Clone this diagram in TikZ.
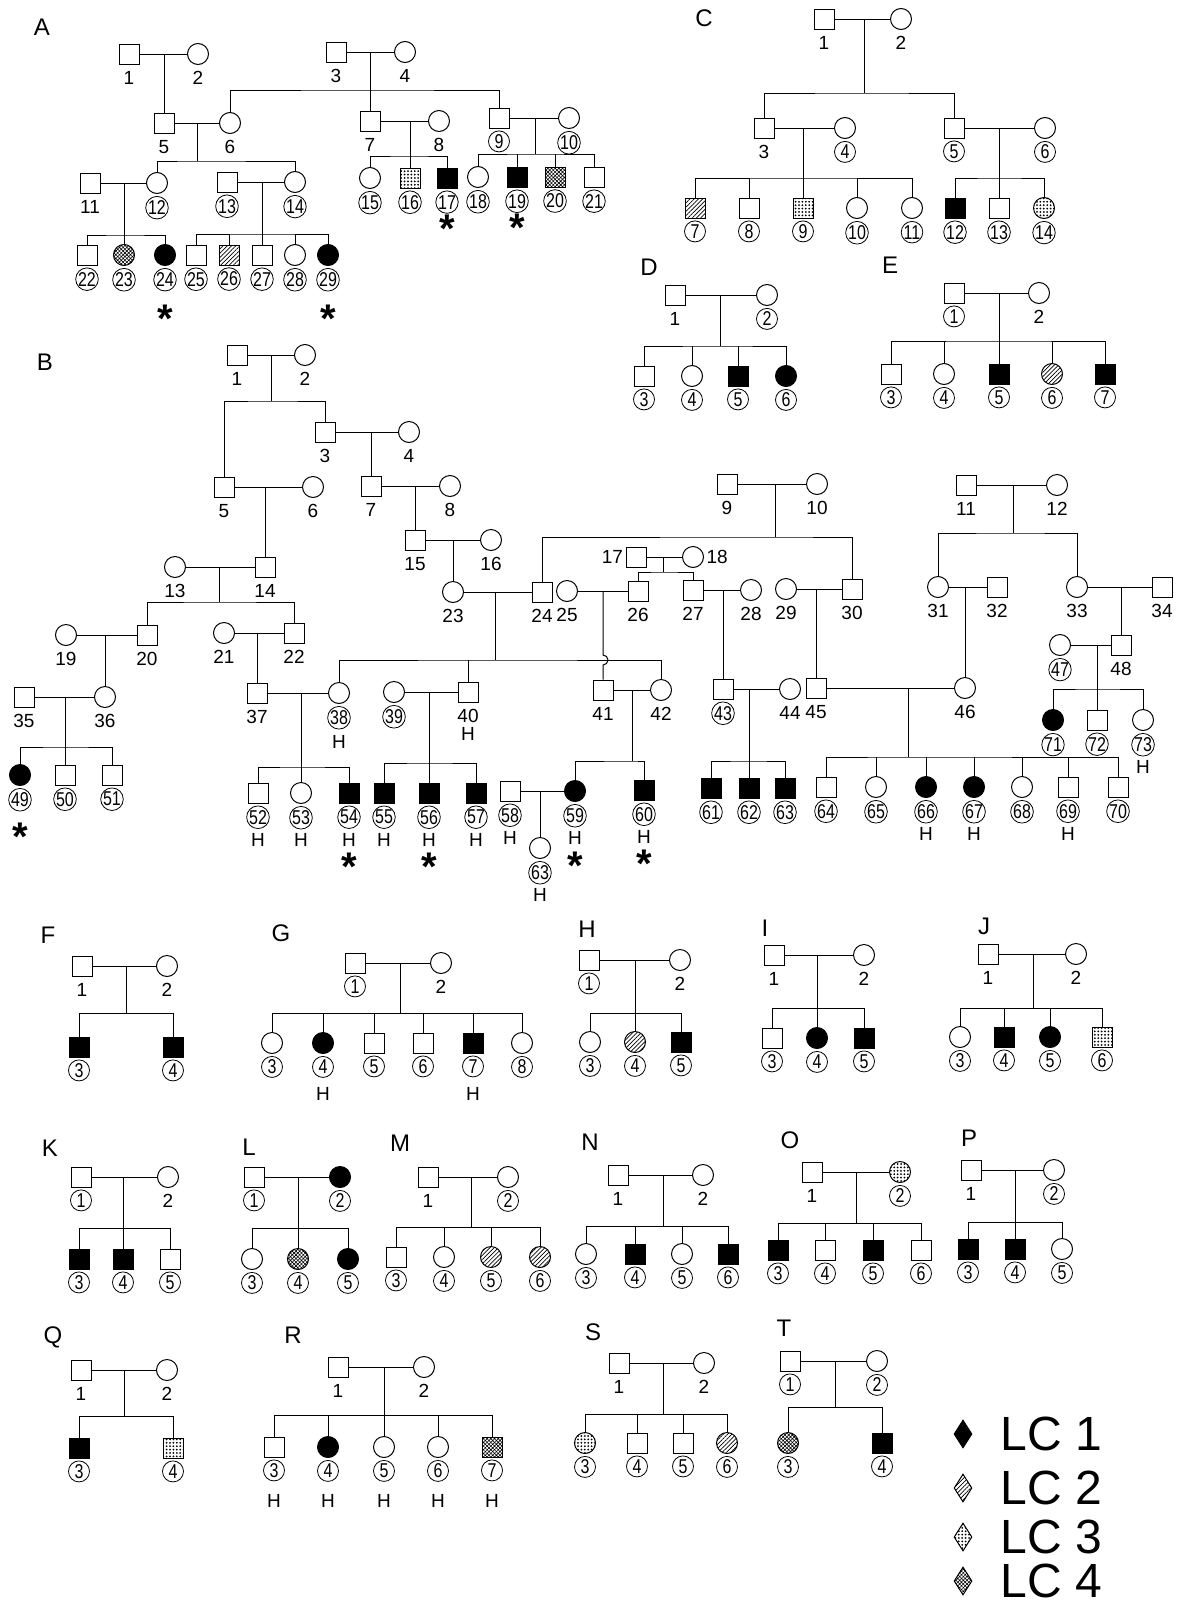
\documentclass[tikz,border=0pt]{standalone}
\usepackage{fontspec}
\setmainfont{Liberation Sans}
\usetikzlibrary{shapes.geometric,patterns.meta}
\newcommand{\numfont}{\fontsize{9.5}{10}\selectfont}
\newcommand{\cnumfont}{\fontsize{10}{10}\selectfont}
\newcommand{\pedfont}{\fontsize{12}{13}\selectfont}
\newcommand{\astfont}{\fontsize{20}{20}\selectfont\bfseries}
\newcommand{\lcfont}{\fontsize{24}{24}\selectfont}

\begin{document}
\begin{tikzpicture}[
  x=0.5pt, y=-0.5pt, line width=0.5pt,
  sq/.style={draw, rectangle, minimum size=10pt, inner sep=0pt},
  ci/.style={draw, circle, minimum size=10.5pt, inner sep=0pt},
  lc1/.style={fill=black},
  lc2/.style={pattern={Lines[angle=45,distance=1.5pt,line width=0.35pt]}},
  lc3/.style={pattern={Dots[radius=0.5pt,distance=1.7pt]}},
  lc4/.style={pattern={Hatch[angle=45,distance=1.3pt,line width=0.3pt]}},
  num/.style={font=\numfont, inner sep=1pt},
  cnum/.style={draw, circle, font=\cnumfont, inner sep=0pt, minimum size=10.5pt, line width=0.4pt},
  astk/.style={font=\astfont, inner sep=0pt},
  ped/.style={font=\pedfont, inner sep=0pt},
  nb/.style={label={[num, label distance=2pt]below:#1}},
  cb/.style={label={[cnum, label distance=1pt]below:{\scalebox{0.8}[1]{#1}}}},
  hb/.style={label={[num, label distance=#1]below:H}}, hb/.default=13.5pt,
  sb/.style={label={[astk, label distance=#1]below:*}},
  lcmark/.style={draw, diamond, minimum width=9pt, minimum height=14pt, inner sep=0pt},
  lctext/.style={anchor=west, font=\lcfont, inner sep=0pt}
]
\useasboundingbox (0,0) rectangle (1177,1606);

% pedigree A
\node[ped] (tA) at (42,27) {A};
\node[sq, nb=1] (A1) at (129,54) {};
\node[ci, nb=2] (A2) at (198,54) {};
\node[sq, nb=3] (A3) at (336,52) {};
\node[ci, nb=4] (A4) at (405,52) {};
\node[sq, nb=5] (A5) at (164,123) {};
\node[ci, nb=6] (A6) at (230,123) {};
\node[sq, nb=7] (A7) at (370,121) {};
\node[ci, nb=8] (A8) at (439,121) {};
\node[sq, cb=9] (A9) at (499,118) {};
\node[ci, cb=10] (A10) at (569,118) {};
\node[sq, nb=11] (A11) at (90,183) {};
\node[ci, cb=12] (A12) at (157,183) {};
\node[sq, cb=13] (A13) at (227,182) {};
\node[ci, cb=14] (A14) at (295,182) {};
\node[ci, cb=15] (A15) at (370,178) {};
\node[sq, lc3, cb=16] (A16) at (410,178) {};
\node[sq, lc1, cb=17, sb=13pt] (A17) at (447,178) {};
\node[ci, cb=18] (A18) at (478,177) {};
\node[sq, lc1, cb=19, sb=13pt] (A19) at (517,177) {};
\node[sq, lc4, cb=20] (A20) at (555,177) {};
\node[sq, cb=21] (A21) at (594,177) {};
\node[sq, cb=22] (A22) at (87,255) {};
\node[ci, lc4, cb=23] (A23) at (124,255) {};
\node[ci, lc1, cb=24, sb=19pt] (A24) at (165,255) {};
\node[sq, cb=25] (A25) at (196,255) {};
\node[sq, lc2, cb=26] (A26) at (229,255) {};
\node[sq, cb=27] (A27) at (262,255) {};
\node[ci, cb=28] (A28) at (295,255) {};
\node[ci, lc1, cb=29, sb=19pt] (A29) at (328,255) {};

\coordinate (mA12) at (164,54);
\coordinate (mA34) at (370,52);
\coordinate (sA34) at (370,90);
\coordinate (mA56) at (197,123);
\coordinate (sA56) at (197,161);
\coordinate (mA78) at (410,121);
\coordinate (sA78) at (410,156);
\coordinate (mA910) at (535,118);
\coordinate (sA910) at (535,154);
\coordinate (mA1112) at (124,183);
\coordinate (sA1112) at (124,235);
\coordinate (mA1314) at (262,182);
\coordinate (sA1314) at (262,234);

\draw (A1) -- (A2);
\draw (mA12) -- (A5);
\draw (A3) -- (A4);
\draw (mA34) -- (A7);
\draw (A6) |- (sA34) -| (A9);
\draw (A5) -- (A6);
\draw (mA56) -- (sA56);
\draw (A12) |- (sA56) -| (A14);
\draw (A7) -- (A8);
\draw (mA78) -- (A16);
\draw (A15) |- (sA78) -| (A17);
\draw (A9) -- (A10);
\draw (mA910) -- (sA910);
\draw (A18) |- (sA910) -| (A21);
\foreach \c in {A19,A20} \draw (\c) -- (\c |- sA910);
\draw (A11) -- (A12);
\draw (mA1112) -- (A23);
\draw (A22) |- (sA1112) -| (A24);
\draw (A13) -- (A14);
\draw (mA1314) -- (A27);
\draw (A25) |- (sA1314) -| (A29);
\foreach \c in {A26,A28} \draw (\c) -- (\c |- sA1314);

% pedigree C
\node[ped] (tC) at (704,18) {C};
\node[sq, nb=1] (C1) at (824,19) {};
\node[ci, nb=2] (C2) at (901,19) {};
\node[sq, nb=3] (C3) at (764,128) {};
\node[ci, cb=4] (C4) at (845,128) {};
\node[sq, cb=5] (C5) at (954,128) {};
\node[ci, cb=6] (C6) at (1045,128) {};
\node[sq, lc2, cb=7] (C7) at (695,208) {};
\node[sq, cb=8] (C8) at (749,208) {};
\node[sq, lc3, cb=9] (C9) at (803,208) {};
\node[ci, cb=10] (C10) at (857,208) {};
\node[ci, cb=11] (C11) at (912,208) {};
\node[sq, lc1, cb=12] (C12) at (955,208) {};
\node[sq, cb=13] (C13) at (999,208) {};
\node[ci, lc3, cb=14] (C14) at (1044,208) {};

\coordinate (mC12) at (864,19);
\coordinate (sC12) at (864,93);
\coordinate (mC34) at (803,128);
\coordinate (sC34) at (803,178);
\coordinate (mC56) at (999,128);
\coordinate (sC56) at (999,178);

\draw (C1) -- (C2);
\draw (mC12) -- (sC12);
\draw (C3) |- (sC12) -| (C5);
\draw (C3) -- (C4);
\draw (mC34) -- (C9);
\draw (C7) |- (sC34) -| (C11);
\foreach \c in {C8,C10} \draw (\c) -- (\c |- sC34);
\draw (C5) -- (C6);
\draw (mC56) -- (C13);
\draw (C12) |- (sC56) -| (C14);

% pedigree D
\node[ped] (tD) at (649,267) {D};
\node[sq, nb=1] (D1) at (675,295) {};
\node[ci, cb=2] (D2) at (767,295) {};
\node[sq, cb=3] (D3) at (644,376) {};
\node[ci, cb=4] (D4) at (692,376) {};
\node[sq, lc1, cb=5] (D5) at (738,376) {};
\node[ci, lc1, cb=6] (D6) at (786,376) {};
\coordinate (mD) at (720,295);
\coordinate (sD) at (720,346);
\draw (D1) -- (D2);
\draw (mD) -- (sD);
\draw (D3) |- (sD) -| (D6);
\foreach \c in {D4,D5} \draw (\c) -- (\c |- sD);

% pedigree E
\node[ped] (tE) at (890,265) {E};
\node[sq, cb=1] (E1) at (954,293) {};
\node[ci, nb=2] (E2) at (1039,293) {};
\node[sq, cb=3] (E3) at (891,374) {};
\node[ci, cb=4] (E4) at (944,374) {};
\node[sq, lc1, cb=5] (E5) at (999,374) {};
\node[ci, lc2, cb=6] (E6) at (1052,374) {};
\node[sq, lc1, cb=7] (E7) at (1105,374) {};
\coordinate (mE) at (999,293);
\coordinate (sE) at (999,341);
\draw (E1) -- (E2);
\draw (mE) -- (E5);
\draw (E3) |- (sE) -| (E7);
\foreach \c in {E4,E6} \draw (\c) -- (\c |- sE);

% pedigree B
\node[ped] (tB) at (45,362) {B};
\node[sq, nb=1] (B1) at (237,355) {};
\node[ci, nb=2] (B2) at (305,355) {};
\node[sq, nb=3] (B3) at (325,432) {};
\node[ci, nb=4] (B4) at (409,432) {};
\node[sq, nb=5] (B5) at (224,487) {};
\node[ci, nb=6] (B6) at (313,487) {};
\node[sq, nb=7] (B7) at (371,486) {};
\node[ci, nb=8] (B8) at (450,486) {};
\node[sq, nb=9] (B9) at (727,484) {};
\node[ci, nb=10] (B10) at (817,484) {};
\node[sq, nb=11] (B11) at (966,485) {};
\node[ci, nb=12] (B12) at (1057,485) {};
\node[ci, nb=13] (B13) at (175,567) {};
\node[sq, nb=14] (B14) at (265,567) {};
\node[sq, nb=15] (B15) at (415,540) {};
\node[ci, nb=16] (B16) at (491,540) {};
\node[sq, label={[num]left:17}] (B17) at (636,557) {};
\node[ci, label={[num]right:18}] (B18) at (693,557) {};
\node[ci, nb=19] (B19) at (66,635) {};
\node[sq, nb=20] (B20) at (147,635) {};
\node[ci, nb=21] (B21) at (224,633) {};
\node[sq, nb=22] (B22) at (294,633) {};
\node[ci, nb=23] (B23) at (453,592) {};
\node[sq, nb=24] (B24) at (542,592) {};
\node[ci, nb=25] (B25) at (567,591) {};
\node[sq, nb=26] (B26) at (638,591) {};
\node[sq, nb=27] (B27) at (693,590) {};
\node[ci, nb=28] (B28) at (751,590) {};
\node[ci, nb=29] (B29) at (786,589) {};
\node[sq, nb=30] (B30) at (852,589) {};
\node[ci, nb=31] (B31) at (938,587) {};
\node[sq, nb=32] (B32) at (997,587) {};
\node[ci, nb=33] (B33) at (1077,587) {};
\node[sq, nb=34] (B34) at (1162,587) {};
\node[sq, nb=35] (B35) at (24,697) {};
\node[ci, nb=36] (B36) at (105,697) {};
\node[sq, nb=37] (B37) at (257,693) {};
\node[ci, cb=38, hb=14.5pt] (B38) at (339,693) {};
\node[ci, cb=39] (B39) at (394,692) {};
\node[sq, nb=40, hb=11pt] (B40) at (468,692) {};
\node[sq, nb=41] (B41) at (603,690) {};
\node[ci, nb=42] (B42) at (661,690) {};
\node[sq, cb=43] (B43) at (723,689) {};
\node[ci, nb=44] (B44) at (790,689) {};
\node[sq, nb=45] (B45) at (816,688) {};
\node[ci, nb=46] (B46) at (965,688) {};
\node[ci, cb=47] (B47) at (1060,645) {};
\node[sq, nb=48] (B48) at (1121,645) {};
\node[ci, lc1, cb=49, sb=18pt] (B49) at (20,775) {};
\node[sq, cb=50] (B50) at (65,775) {};
\node[sq, cb=51] (B51) at (112,775) {};
\node[sq, cb=52, hb] (B52) at (258,793) {};
\node[ci, cb=53, hb] (B53) at (301,793) {};
\node[sq, lc1, cb=54, hb, sb=24.5pt] (B54) at (349,793) {};
\node[sq, lc1, cb=55, hb] (B55) at (384,793) {};
\node[sq, lc1, cb=56, hb, sb=24.5pt] (B56) at (429,793) {};
\node[sq, lc1, cb=57, hb] (B57) at (476,793) {};
\node[sq, cb=58, hb] (B58) at (510,791) {};
\node[ci, lc1, cb=59, hb, sb=24.5pt] (B59) at (575,791) {};
\node[sq, lc1, cb=60, hb, sb=24.5pt] (B60) at (644,790) {};
\node[sq, lc1, cb=61] (B61) at (711,788) {};
\node[sq, lc1, cb=62] (B62) at (749,788) {};
\node[sq, lc1, cb=63] (B63) at (785,788) {};
\node[sq, cb=64] (B64) at (826,787) {};
\node[ci, cb=65] (B65) at (876,787) {};
\node[ci, lc1, cb=66, hb] (B66) at (926,787) {};
\node[ci, lc1, cb=67, hb] (B67) at (974,787) {};
\node[ci, cb=68] (B68) at (1022,787) {};
\node[sq, cb=69, hb] (B69) at (1068,787) {};
\node[sq, cb=70] (B70) at (1118,787) {};
\node[ci, lc1, cb=71] (B71) at (1053,720) {};
\node[sq, cb=72] (B72) at (1097,720) {};
\node[ci, cb=73, hb] (B73) at (1143,720) {};
\node[ci, cb=63, hb] (B63b) at (540,848) {};

\coordinate (mB12) at (271,355);
\coordinate (sB12) at (271,401);
\coordinate (mB34) at (371,432);
\coordinate (mB56) at (265,487);
\coordinate (mB78) at (415,486);
\coordinate (mB910) at (775,484);
\coordinate (sB910) at (775,537);
\coordinate (mB1112) at (1013,485);
\coordinate (sB1112) at (1013,533);
\coordinate (mB1314) at (219,567);
\coordinate (sB1314) at (219,602);
\coordinate (mB1516) at (453,540);
\coordinate (mB1718) at (663,557);
\coordinate (sB1718) at (663,572);
\coordinate (mB1920) at (105,635);
\coordinate (mB2122) at (257,633);
\coordinate (mB2324) at (495,592);
\coordinate (sB2324) at (495,660);
\coordinate (mB2526) at (603,591);
\coordinate (mB2728) at (723,590);
\coordinate (mB2930) at (816,589);
\coordinate (mB3132) at (965,587);
\coordinate (mB3334) at (1121,587);
\coordinate (mB3536) at (65,697);
\coordinate (sB3536) at (65,747);
\coordinate (mB3738) at (301,693);
\coordinate (sB3738) at (301,767);
\coordinate (mB3940) at (429,692);
\coordinate (sB3940) at (429,763);
\coordinate (mB4142) at (632,690);
\coordinate (sB4142) at (632,761);
\coordinate (mB4344) at (749,689);
\coordinate (sB4344) at (749,761);
\coordinate (mB4546) at (908,688);
\coordinate (sB4546) at (908,757);
\coordinate (mB4748) at (1097,645);
\coordinate (sB4748) at (1097,689);
\coordinate (mB5859) at (540,791);

\draw (B1) -- (B2);
\draw (mB12) -- (sB12);
\draw (B5) |- (sB12) -| (B3);
\draw (B3) -- (B4);
\draw (mB34) -- (B7);
\draw (B5) -- (B6);
\draw (mB56) -- (B14);
\draw (B7) -- (B8);
\draw (mB78) -- (B15);
\draw (B9) -- (B10);
\draw (mB910) -- (sB910);
\draw (B24) |- (sB910) -| (B30);
\draw (B11) -- (B12);
\draw (mB1112) -- (sB1112);
\draw (B31) |- (sB1112) -| (B33);
\draw (B13) -- (B14);
\draw (mB1314) -- (sB1314);
\draw (B20) |- (sB1314) -| (B22);
\draw (B15) -- (B16);
\draw (mB1516) -- (B23);
\draw (B17) -- (B18);
\draw (mB1718) -- (sB1718);
\draw (B26) |- (sB1718) -| (B27);
\draw (B19) -- (B20);
\draw (mB1920) -- (B36);
\draw (B21) -- (B22);
\draw (mB2122) -- (B37);
\draw (B23) -- (B24);
\draw (mB2324) -- (sB2324);
\draw (B38) |- (sB2324) -| (B42);
\draw (B40) -- (B40 |- sB2324);
\draw (B25) -- (B26);
\draw (mB2526) -- ++(0,64) arc[start angle=-90, end angle=90, radius=5] -- (B41);
\draw (B27) -- (B28);
\draw (mB2728) -- (B43);
\draw (B29) -- (B30);
\draw (mB2930) -- (B45);
\draw (B31) -- (B32);
\draw (mB3132) -- (B46);
\draw (B33) -- (B34);
\draw (mB3334) -- (B48);
\draw (B35) -- (B36);
\draw (mB3536) -- (B50);
\draw (B49) |- (sB3536) -| (B51);
\draw (B37) -- (B38);
\draw (mB3738) -- (B53);
\draw (B52) |- (sB3738) -| (B54);
\draw (B39) -- (B40);
\draw (mB3940) -- (B56);
\draw (B55) |- (sB3940) -| (B57);
\draw (B41) -- (B42);
\draw (mB4142) -- (sB4142);
\draw (B59) |- (sB4142) -| (B60);
\draw (B43) -- (B44);
\draw (mB4344) -- (B62);
\draw (B61) |- (sB4344) -| (B63);
\draw (B45) -- (B46);
\draw (mB4546) -- (sB4546);
\draw (B64) |- (sB4546) -| (B70);
\foreach \c in {B65,B66,B67,B68,B69} \draw (\c) -- (\c |- sB4546);
\draw (B47) -- (B48);
\draw (mB4748) -- (B72);
\draw (B71) |- (sB4748) -| (B73);
\draw (B58) -- (B59);
\draw (mB5859) -- (B63b);

% pedigree F
\node[ped] (tF) at (48,935) {F};
\node[sq, nb=1] (F1) at (82,966) {};
\node[ci, nb=2] (F2) at (167,966) {};
\node[sq, lc1, cb=3] (F3) at (79,1047) {};
\node[sq, lc1, cb=4] (F4) at (173,1047) {};
\coordinate (mF) at (126,966);
\coordinate (sF) at (126,1013);
\draw (F1) -- (F2);
\draw (mF) -- (sF);
\draw (F3) |- (sF) -| (F4);

% pedigree G
\node[ped] (tG) at (281,933) {G};
\node[sq, cb=1] (G1) at (355,963) {};
\node[ci, nb=2] (G2) at (441,963) {};
\node[ci, cb=3] (G3) at (272,1043) {};
\node[ci, lc1, cb=4, hb=15.5pt] (G4) at (323,1043) {};
\node[sq, cb=5] (G5) at (374,1043) {};
\node[sq, cb=6] (G6) at (423,1043) {};
\node[sq, lc1, cb=7, hb=15.5pt] (G7) at (473,1043) {};
\node[ci, cb=8] (G8) at (522,1043) {};
\coordinate (mG) at (400,963);
\coordinate (sG) at (400,1013);
\draw (G1) -- (G2);
\draw (mG) -- (sG);
\draw (G3) |- (sG) -| (G8);
\foreach \c in {G4,G5,G6,G7} \draw (\c) -- (\c |- sG);

% pedigree H
\node[ped] (tH) at (587,929) {H};
\node[sq, cb=1] (H1) at (589,960) {};
\node[ci, nb=2] (H2) at (680,960) {};
\node[ci, cb=3] (H3) at (590,1042) {};
\node[ci, lc2, cb=4] (H4) at (635,1042) {};
\node[sq, lc1, cb=5] (H5) at (681,1042) {};
\coordinate (mH) at (635,960);
\coordinate (sH) at (635,1013);
\draw (H1) -- (H2);
\draw (mH) -- (H4);
\draw (H3) |- (sH) -| (H5);

% pedigree I
\node[ped] (tI) at (765,928) {I};
\node[sq, nb=1] (I1) at (774,955) {};
\node[ci, nb=2] (I2) at (864,955) {};
\node[sq, cb=3] (I3) at (772,1038) {};
\node[ci, lc1, cb=4] (I4) at (817,1038) {};
\node[sq, lc1, cb=5] (I5) at (864,1038) {};
\coordinate (mI) at (817,955);
\coordinate (sI) at (817,1008);
\draw (I1) -- (I2);
\draw (mI) -- (I4);
\draw (I3) |- (sI) -| (I5);

% pedigree J
\node[ped] (tJ) at (984,926) {J};
\node[sq, nb=1] (J1) at (988,954) {};
\node[ci, nb=2] (J2) at (1076,954) {};
\node[ci, cb=3] (J3) at (960,1037) {};
\node[sq, lc1, cb=4] (J4) at (1004,1037) {};
\node[ci, lc1, cb=5] (J5) at (1050,1037) {};
\node[sq, lc3, cb=6] (J6) at (1102,1037) {};
\coordinate (mJ) at (1033,954);
\coordinate (sJ) at (1033,1008);
\draw (J1) -- (J2);
\draw (mJ) -- (sJ);
\draw (J3) |- (sJ) -| (J6);
\foreach \c in {J4,J5} \draw (\c) -- (\c |- sJ);

% pedigree K
\node[ped] (tK) at (50,1148) {K};
\node[sq, cb=1] (K1) at (81,1177) {};
\node[ci, nb=2] (K2) at (168,1177) {};
\node[sq, lc1, cb=3] (K3) at (79,1259) {};
\node[sq, lc1, cb=4] (K4) at (123,1259) {};
\node[sq, cb=5] (K5) at (170,1259) {};
\coordinate (mK) at (123,1177);
\coordinate (sK) at (123,1228);
\draw (K1) -- (K2);
\draw (mK) -- (K4);
\draw (K3) |- (sK) -| (K5);

% pedigree L
\node[ped] (tL) at (249,1147) {L};
\node[sq, cb=1] (L1) at (254,1177) {};
\node[ci, lc1, cb=2] (L2) at (340,1177) {};
\node[ci, cb=3] (L3) at (252,1259) {};
\node[ci, lc4, cb=4] (L4) at (298,1259) {};
\node[ci, lc1, cb=5] (L5) at (348,1259) {};
\coordinate (mL) at (298,1177);
\coordinate (sL) at (298,1228);
\draw (L1) -- (L2);
\draw (mL) -- (L4);
\draw (L3) |- (sL) -| (L5);

% pedigree M
\node[ped] (tM) at (400,1143) {M};
\node[sq, nb=1] (M1) at (428,1177) {};
\node[ci, cb=2] (M2) at (508,1177) {};
\node[sq, cb=3] (M3) at (396,1257) {};
\node[ci, cb=4] (M4) at (444,1257) {};
\node[ci, lc2, cb=5] (M5) at (491,1257) {};
\node[ci, lc2, cb=6] (M6) at (540,1257) {};
\coordinate (mM) at (471,1177);
\coordinate (sM) at (471,1227);
\draw (M1) -- (M2);
\draw (mM) -- (sM);
\draw (M3) |- (sM) -| (M6);
\foreach \c in {M4,M5} \draw (\c) -- (\c |- sM);

% pedigree N
\node[ped] (tN) at (590,1142) {N};
\node[sq, nb=1] (N1) at (618,1175) {};
\node[ci, nb=2] (N2) at (703,1175) {};
\node[ci, cb=3] (N3) at (586,1254) {};
\node[sq, lc1, cb=4] (N4) at (635,1254) {};
\node[ci, cb=5] (N5) at (682,1254) {};
\node[sq, lc1, cb=6] (N6) at (728,1254) {};
\coordinate (mN) at (663,1175);
\coordinate (sN) at (663,1226);
\draw (N1) -- (N2);
\draw (mN) -- (sN);
\draw (N3) |- (sN) -| (N6);
\foreach \c in {N4,N5} \draw (\c) -- (\c |- sN);

% pedigree O
\node[ped] (tO) at (790,1140) {O};
\node[sq, nb=1] (O1) at (812,1172) {};
\node[ci, lc3, cb=2] (O2) at (900,1172) {};
\node[sq, lc1, cb=3] (O3) at (778,1250) {};
\node[sq, cb=4] (O4) at (825,1250) {};
\node[sq, lc1, cb=5] (O5) at (873,1250) {};
\node[sq, cb=6] (O6) at (921,1250) {};
\coordinate (mO) at (856,1172);
\coordinate (sO) at (856,1223);
\draw (O1) -- (O2);
\draw (mO) -- (sO);
\draw (O3) |- (sO) -| (O6);
\foreach \c in {O4,O5} \draw (\c) -- (\c |- sO);

% pedigree P
\node[ped] (tP) at (969,1138) {P};
\node[sq, nb=1] (P1) at (971,1170) {};
\node[ci, cb=2] (P2) at (1054,1170) {};
\node[sq, lc1, cb=3] (P3) at (968,1249) {};
\node[sq, lc1, cb=4] (P4) at (1015,1249) {};
\node[ci, cb=5] (P5) at (1062,1249) {};
\coordinate (mP) at (1015,1170);
\coordinate (sP) at (1015,1222);
\draw (P1) -- (P2);
\draw (mP) -- (P4);
\draw (P3) |- (sP) -| (P5);

% pedigree Q
\node[ped] (tQ) at (53,1337) {Q};
\node[sq, nb=1] (Q1) at (81,1370) {};
\node[ci, nb=2] (Q2) at (167,1370) {};
\node[sq, lc1, cb=3] (Q3) at (79,1448) {};
\node[sq, lc3, cb=4] (Q4) at (173,1448) {};
\coordinate (mQ) at (124,1370);
\coordinate (sQ) at (124,1416);
\draw (Q1) -- (Q2);
\draw (mQ) -- (sQ);
\draw (Q3) |- (sQ) -| (Q4);

% pedigree R
\node[ped] (tR) at (293,1335) {R};
\node[sq, nb=1] (R1) at (338,1367) {};
\node[ci, nb=2] (R2) at (424,1367) {};
\node[sq, cb=3, hb=17pt] (R3) at (274,1447) {};
\node[ci, lc1, cb=4, hb=17pt] (R4) at (328,1447) {};
\node[ci, cb=5, hb=17pt] (R5) at (384,1447) {};
\node[ci, cb=6, hb=17pt] (R6) at (438,1447) {};
\node[sq, lc4, cb=7, hb=17pt] (R7) at (492,1447) {};
\coordinate (mR) at (384,1367);
\coordinate (sR) at (384,1415);
\draw (R1) -- (R2);
\draw (mR) -- (R5);
\draw (R3) |- (sR) -| (R7);
\foreach \c in {R4,R6} \draw (\c) -- (\c |- sR);

% pedigree S
\node[ped] (tS) at (593,1332) {S};
\node[sq, nb=1] (S1) at (619,1363) {};
\node[ci, nb=2] (S2) at (704,1363) {};
\node[ci, lc3, cb=3] (S3) at (585,1443) {};
\node[sq, cb=4] (S4) at (637,1443) {};
\node[sq, cb=5] (S5) at (683,1443) {};
\node[ci, lc2, cb=6] (S6) at (727,1443) {};
\coordinate (mS) at (663,1363);
\coordinate (sS) at (663,1414);
\draw (S1) -- (S2);
\draw (mS) -- (sS);
\draw (S3) |- (sS) -| (S6);
\foreach \c in {S4,S5} \draw (\c) -- (\c |- sS);

% pedigree T
\node[ped] (tT) at (784,1328) {T};
\node[sq, cb=1] (T1) at (790,1361) {};
\node[ci, cb=2] (T2) at (877,1361) {};
\node[ci, lc4, cb=3] (T3) at (788,1443) {};
\node[sq, lc1, cb=4] (T4) at (882,1443) {};
\coordinate (mT) at (835,1361);
\coordinate (sT) at (835,1407);
\draw (T1) -- (T2);
\draw (mT) -- (sT);
\draw (T3) |- (sT) -| (T4);

% legend
\node[lcmark, lc1] (k1) at (963,1434) {};
\node[lcmark, lc2] (k2) at (963,1488) {};
\node[lcmark, lc3] (k3) at (963,1537) {};
\node[lcmark, lc4] (k4) at (963,1581) {};
\node[lctext] (k1t) at (1000,1434) {LC 1};
\node[lctext] (k2t) at (1000,1488) {LC 2};
\node[lctext] (k3t) at (1000,1537) {LC 3};
\node[lctext] (k4t) at (1000,1581) {LC 4};
\end{tikzpicture}
\end{document}
